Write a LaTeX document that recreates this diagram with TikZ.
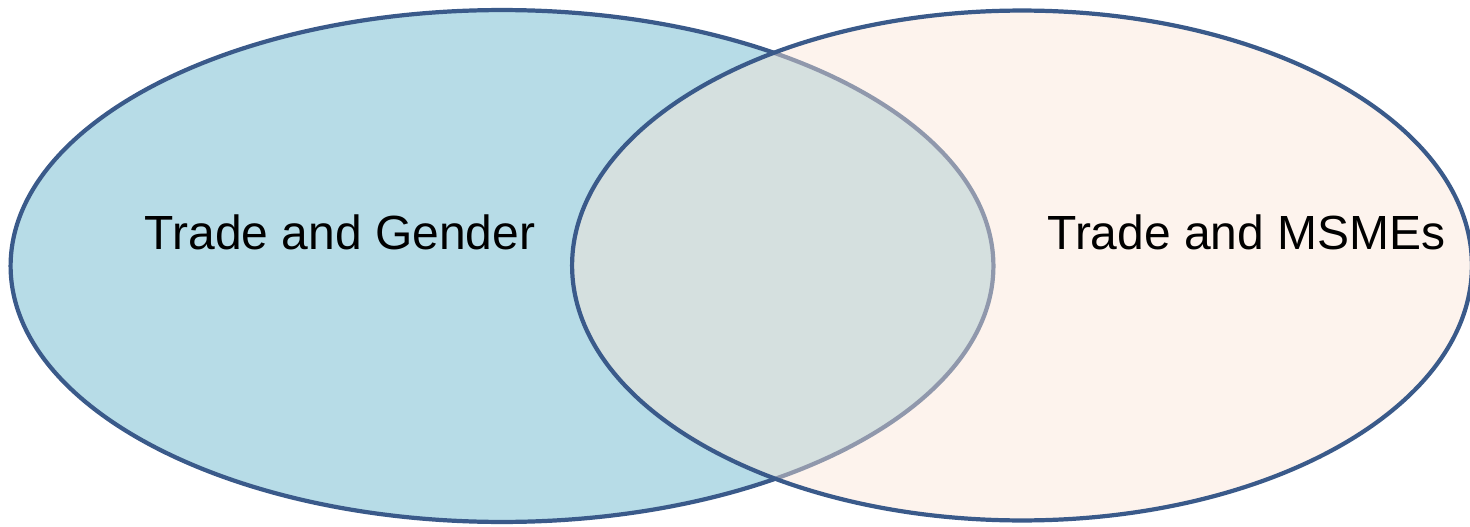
\documentclass[tikz,border=0pt]{standalone}
\usepackage{fontspec}
\setmainfont{Liberation Sans}
\usetikzlibrary{shapes.geometric}
\definecolor{edgeblue}{HTML}{3A5A8A}
\definecolor{leftfill}{HTML}{B7DCE7}
\definecolor{rightfill}{HTML}{FAE5D7}
\tikzset{
  setbox/.style={ellipse, draw=edgeblue, line width=2.4pt, inner sep=0pt, outer sep=0pt},
  label/.style={font=\fontsize{27.3}{32}\selectfont, anchor=base, text=black}
}
\begin{document}
\begin{tikzpicture}[x=0.02cm, y=-0.02cm]
\useasboundingbox (0,0) rectangle (1470,527);
\node[setbox, fill=leftfill, minimum width=19.66cm, minimum height=10.24cm] (gender) at (502,266) {};
\node[setbox, fill=rightfill, fill opacity=0.45, minimum width=18.0cm, minimum height=10.2cm] (msme) at (1022,265.5) {};
\node[label] (tg) at (340,249) {Trade and Gender};
\node[label] (tm) at (1246.5,249) {Trade and MSMEs};
\end{tikzpicture}
\end{document}
